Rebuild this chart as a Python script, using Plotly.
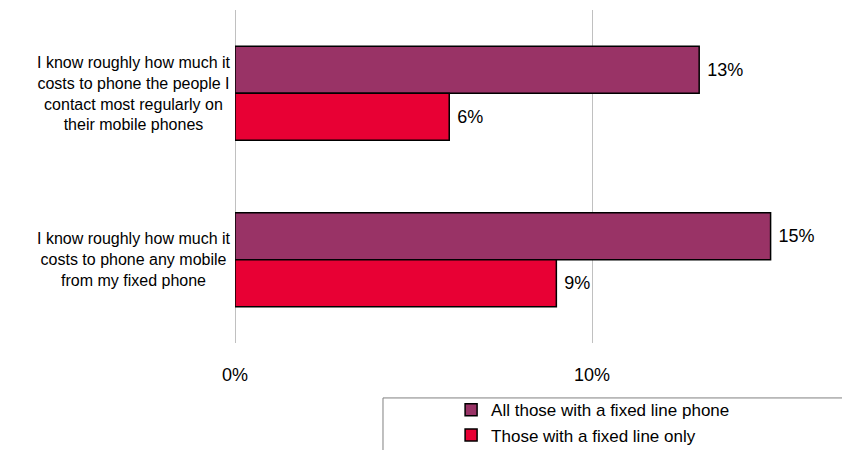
import plotly.graph_objects as go

categories = [
    "I know roughly how much it<br>costs to phone the people I<br>contact most regularly on<br>their mobile phones",
    "I know roughly how much it<br>costs to phone any mobile<br>from my fixed phone",
]
series_names = ["All those with a fixed line phone", "Those with a fixed line only"]
all_fixed = [13, 15]
fixed_only = [6, 9]
tick_vals = [0, 10]
tick_text = ["0%", "10%"]

colors = ["#993366", "#E80034"]
FONT = "Liberation Sans, Arial, sans-serif"

fig = go.Figure()
for name, vals, col in zip(series_names, [all_fixed, fixed_only], colors):
    fig.add_trace(go.Bar(
        y=categories, x=vals, name=name, orientation="h",
        marker=dict(color=col, line=dict(color="black", width=1.5)),
        texttemplate=" %{x}%", textposition="outside",
        textfont=dict(family=FONT, size=18, color="black"),
        cliponaxis=False,
    ))

for cat in categories:
    fig.add_annotation(
        x=0, xref="paper", xanchor="right", xshift=-2,
        y=cat, yref="y", text=cat, showarrow=False, align="center",
        font=dict(family=FONT, size=16, color="black"),
    )

fig.add_shape(type="rect", xref="paper", yref="paper",
              x0=0.2438, x1=1.2, y0=-0.6, y1=-0.165,
              line=dict(color="#808080", width=1), fillcolor="rgba(0,0,0,0)")

fig.update_layout(
    width=842, height=450,
    margin=dict(l=235, r=0, t=10, b=107, autoexpand=False),
    paper_bgcolor="white", plot_bgcolor="white",
    barmode="group", bargap=0.435, bargroupgap=0,
    font=dict(family=FONT, size=18, color="black"),
    showlegend=True,
    legend=dict(x=0.356, xanchor="left", y=-0.148, yanchor="top",
                bgcolor="rgba(0,0,0,0)", font=dict(family=FONT, size=17),
                traceorder="normal", tracegroupgap=0, itemwidth=30),
    xaxis=dict(range=[0, 17], tickvals=tick_vals, ticktext=tick_text,
               showgrid=True, gridcolor="#c0c0c0", gridwidth=1,
               zeroline=True, zerolinecolor="#c0c0c0", zerolinewidth=1,
               showline=False, ticks="outside", ticklen=15,
               tickcolor="rgba(0,0,0,0)",
               tickfont=dict(family=FONT, size=18, color="black")),
    yaxis=dict(autorange="reversed", showticklabels=False, showgrid=False,
               zeroline=False, showline=False),
)

fig.write_html("out.html")
